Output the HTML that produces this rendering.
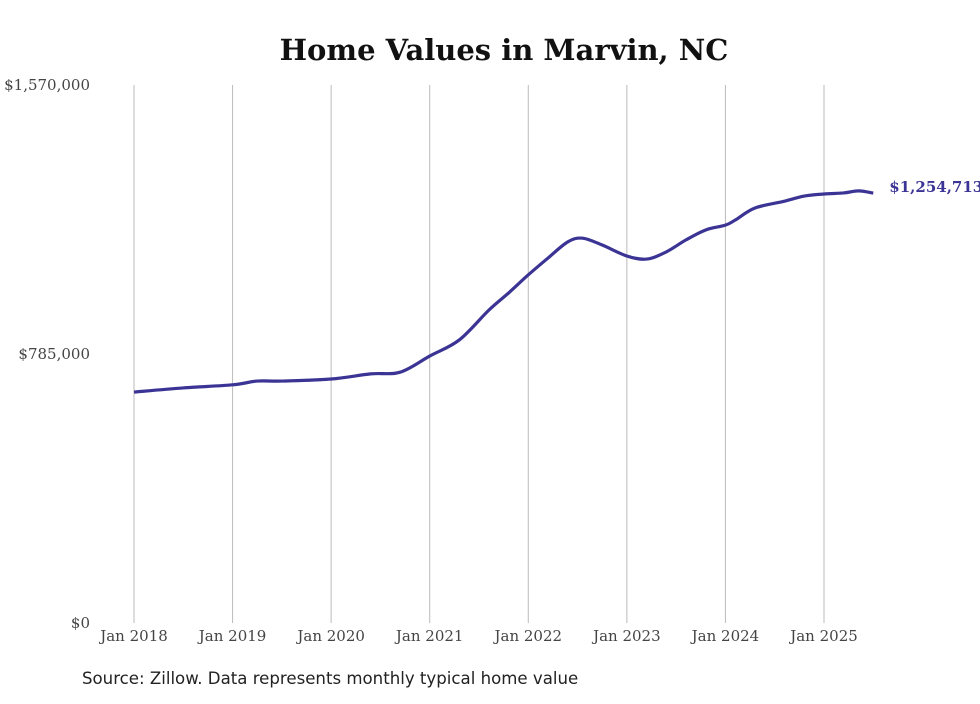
<!DOCTYPE html>
<html><head><meta charset="utf-8"><style>
body{margin:0;background:#fff;width:980px;height:699px;overflow:hidden}
svg text{font-family:"DejaVu Serif","Liberation Serif",serif}
</style></head><body>
<svg width="980" height="699" id="chart">
<text x="504" y="60" text-anchor="middle" font-size="29" font-weight="bold" fill="#111">Home Values in Marvin, NC</text>
<g id="grid"></g><g id="yticks"></g><g id="xticks"></g>
<path id="line" fill="none" stroke="#3b3494" stroke-width="3.2"/>
<text id="endlabel" font-size="15" font-weight="bold" fill="#3b3494"></text>
<text x="82" y="684" font-size="16.6" fill="#222" style="font-family:'DejaVu Sans','Liberation Sans',sans-serif">Source: Zillow. Data represents monthly typical home value</text>
</svg>
<script>
const dates=[2018.0,2018.5,2019.0,2019.25,2019.5,2020.0,2020.4,2020.7,2021.0,2021.3,2021.6,2021.8,2022.0,2022.2,2022.4,2022.55,2022.75,2023.0,2023.2,2023.4,2023.6,2023.8,2024.0,2024.1,2024.3,2024.6,2024.8,2025.0,2025.2,2025.35,2025.5];
const values=[674000,686000,695000,706000,706000,712000,727000,732000,779000,826000,913000,963000,1016000,1065000,1112000,1123000,1103000,1071000,1062000,1083000,1118000,1147000,1161000,1176000,1211000,1231000,1246000,1252000,1255000,1261000,1254713];
const xTickLabels=["Jan 2018","Jan 2019","Jan 2020","Jan 2021","Jan 2022","Jan 2023","Jan 2024","Jan 2025"];
const xTickYears=[2018,2019,2020,2021,2022,2023,2024,2025];
const yTickValues=[0,785000,1570000];
const yTickLabels=["$0","$785,000","$1,570,000"];
const NS="http://www.w3.org/2000/svg";
const X=t=>134+(t-2018)*(824-134)/7;
const Y=v=>623-v/1570000*538;
function el(tag,attrs,parent){const e=document.createElementNS(NS,tag);for(const k in attrs)e.setAttribute(k,attrs[k]);document.getElementById(parent).appendChild(e);return e;}
xTickYears.forEach((yr,i)=>{
  const l=el('line',{x1:X(yr),x2:X(yr),y1:85,y2:623,stroke:'#bbb','stroke-width':1},'grid');
  
  
  const t=el('text',{x:X(yr),y:641,'text-anchor':'middle','font-size':15,fill:'#444'},'xticks');
  t.textContent=xTickLabels[i];
  
  
});
yTickValues.forEach((v,i)=>{
  const t=el('text',{x:90,y:Y(v)+5,'text-anchor':'end','font-size':15,fill:'#444'},'yticks');
  t.textContent=yTickLabels[i];
  
  
});
const pts=dates.map((d,i)=>[X(d),Y(values[i])]);
let d=`M${pts[0][0]},${pts[0][1]}`;
for(let i=0;i<pts.length-1;i++){
  const p0=pts[Math.max(0,i-1)],p1=pts[i],p2=pts[i+1],p3=pts[Math.min(pts.length-1,i+2)];
  d+=` C${p1[0]+(p2[0]-p0[0])/6},${p1[1]+(p2[1]-p0[1])/6} ${p2[0]-(p3[0]-p1[0])/6},${p2[1]-(p3[1]-p1[1])/6} ${p2[0]},${p2[1]}`;
}
document.getElementById('line').setAttribute('d',d);
const last=pts[pts.length-1];
const lab=document.getElementById('endlabel');
lab.setAttribute('x',last[0]+16);lab.setAttribute('y',last[1]-1);
lab.textContent='$'+values[values.length-1].toLocaleString('en-US');
</script>
</body></html>
